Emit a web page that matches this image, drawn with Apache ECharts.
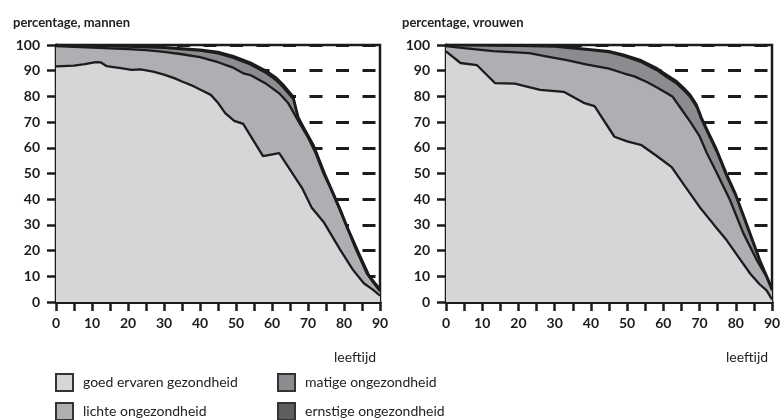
<!DOCTYPE html>
<html><head><meta charset="utf-8">
<script src="https://cdn.jsdelivr.net/npm/echarts@6/dist/echarts.min.js"></script>
<style>html,body{margin:0;padding:0;background:#fff}#c{width:784px;height:420px}</style>
</head><body><div id="c"></div>
<script>
// ---- data ----
const seriesNames = ['goed ervaren gezondheid','lichte ongezondheid','matige ongezondheid','ernstige ongezondheid'];
const panelTitles = ['percentage, mannen','percentage, vrouwen'];
const xTickLabels = [0,10,20,30,40,50,60,70,80,90];
const yTickLabels = [0,10,20,30,40,50,60,70,80,90,100];

// mannen (cumulative percentages by age)
const menAgeGoed = [0,5,8,11,12.5,14,18,21,23.5,27,30,33,35,37.5,41,43,45,47,49.5,52,57.5,62,65,68.5,71,74.5,79,82.5,85.5,88,90];
const menGoed    = [91.7,92,92.6,93.3,93.2,91.8,91,90.3,90.5,89.6,88.5,87,85.8,84.4,82,80.6,77.5,73.5,70.5,69.3,56.8,57.9,51.5,44,36.8,30.8,20.2,12.5,7.3,4.8,2.5];
const menAgeLichte = [0,10,20,25,30,35,40,45,49,52,54,58.5,62,64.5,67.8,70,72,74.3,76,78.9,81,83,86.3,88,90];
const menLichte    = [99.6,99,98.4,98,97.3,96.4,95.3,93.3,91.3,89,88.3,84.8,81.2,77.4,69.2,64,58.3,50,45,35.6,28.5,21.5,11.2,7.8,4.2];
const menAgeTop = [0,10,20,30,40,45,49.3,54,58.5,61,63.1,65.9,67.3,69,71.5,74.7,77,79,81,84,87,90];
const menMatige = [100,99.8,99.4,98.9,97.8,96.7,95,92.4,89,86.5,83.6,79,71.2,66.8,60.5,49.3,42,35.5,28.5,19,9.9,4.9];
const menErnstig = [100,99.9,99.6,99.2,98.2,97.3,95.7,93.2,89.9,87.5,84.6,80,72,67.5,61.2,49.8,42.5,36,29,19.5,10.2,5];

// vrouwen
const womAgeGoed = [0,4,8.5,13.5,19,26,32.5,38,41,46.5,50,54,58,62.3,66,70,74,77.5,81,84,86.5,88.5,90];
const womGoed    = [97.5,93,92.2,85.2,85,82.5,81.8,77.5,76.2,64.3,62.5,61,57,52.5,45,37,30,24,17,11,7,4.5,1];
const womAgeLichte = [0,5,13,23,28,33,39,45,49,52,55.6,58.5,62.5,65,67.5,70,72,74.5,78.4,82.1,85.8,88.5,90];
const womLichte    = [99.6,98.8,97.6,96.8,95.5,94.2,92.4,90.8,89,87.8,85.5,83.3,80,75,70,64.5,58,51,39.7,26.7,16.3,9.8,4.5];
const womAgeTop = [0,10,20,30,40,45,49,54,58.2,61,63.7,66,67.4,69.2,70.6,72.5,74.7,77.5,80,83,86.7,89.4,90];
const womMatige  = [100,99.9,99.7,99.4,98,97.2,95.8,93.3,90.2,87.4,85,81.9,79.8,75.8,70.8,65.1,58.6,48.9,41.2,29.8,15.6,6.9,5];
const womErnstig = [100,100,99.9,99.7,98.3,97.6,96.3,94,91,88.3,85.9,82.8,80.7,76.8,71.6,66,59.5,49.8,42,30.6,16.3,7.4,5.5];

// ---- styling ----
const fills = ['#d5d6d8','#aeafb2','#8b8c8f','#5e5e60'];
const ink = '#1c1c1c';
const font = 'Lato, "Open Sans", sans-serif';

function pairs(a, v){ return a.map((x,i)=>[x, v[i]]); }

const panels = [
  {goed:[menAgeGoed,menGoed], lichte:[menAgeLichte,menLichte], matige:[menAgeTop,menMatige], ernstig:[menAgeTop,menErnstig]},
  {goed:[womAgeGoed,womGoed], lichte:[womAgeLichte,womLichte], matige:[womAgeTop,womMatige], ernstig:[womAgeTop,womErnstig]}
];

const grids = [
  {left:56, top:45, width:324, height:257, show:true, borderColor:ink, borderWidth:2.5, backgroundColor:'transparent'},
  {left:446, top:45, width:326, height:257, show:true, borderColor:ink, borderWidth:2.5, backgroundColor:'transparent'}
];
const dashOffsets = [11.5, 9.5];

const xAxes = grids.map((g,i)=>({
  type:'value', gridIndex:i, min:0, max:90, interval:5,
  axisLine:{show:true, lineStyle:{color:ink, width:3}},
  axisTick:{show:true, length:9, lineStyle:{color:ink, width:2.5}},
  axisLabel:{margin:14, color:ink, fontFamily:font, fontWeight:'bold', fontSize:14,
    formatter:v=> xTickLabels.includes(v) ? String(v) : ''},
  splitLine:{show:false}
}));
const yAxes = grids.map((g,i)=>({
  type:'value', gridIndex:i, min:0, max:100, interval:10,
  axisLine:{show:true, lineStyle:{color:ink, width:3}},
  axisTick:{show:true, length:9, lineStyle:{color:ink, width:2.5}},
  axisLabel:{margin:16, color:ink, fontFamily:font, fontWeight:'bold', fontSize:14,
    formatter:v=> yTickLabels.includes(v) ? String(v) : ''},
  splitLine:{show:true, lineStyle:{color:ink, width:2.8, type:[13,13.5], dashOffset:dashOffsets[i]}}
}));

const series = [];
panels.forEach((p,i)=>{
  const order = [['ernstig',3],['matige',2],['lichte',1],['goed',0]];
  order.forEach(([k,ci])=>{
    series.push({
      type:'line', name:seriesNames[ci], xAxisIndex:i, yAxisIndex:i,
      data:pairs(p[k][0], p[k][1]), symbol:'none', smooth:false,
      lineStyle:{color:ink, width:2.3},
      itemStyle:{color:fills[ci]},
      areaStyle:{color:fills[ci], opacity:1, origin:'start'},
      silent:true, animation:false
    });
  });
});

const legendPos = [[55,373],[55,402],[277,373],[277,402]];
const legends = seriesNames.map((n,ci)=>({
  left:legendPos[ci][0], top:legendPos[ci][1], padding:0, orient:'horizontal',
  itemWidth:17, itemHeight:17, selectedMode:false,
  textStyle:{color:'#222', fontFamily:font, fontSize:14, padding:[0,0,0,5]},
  data:[{name:n, icon:'rect', itemStyle:{color:fills[ci], borderColor:'#333', borderWidth:2}}]
}));

const option = {
  backgroundColor:'#fff',
  animation:false,
  title:[
    {text:panelTitles[0], left:8, top:11, textStyle:{fontFamily:font, fontWeight:'bold', fontSize:13, color:'#222'}},
    {text:panelTitles[1], left:397, top:11, textStyle:{fontFamily:font, fontWeight:'bold', fontSize:13, color:'#222'}},
    {text:'leeftijd', left:329, top:345, textStyle:{fontFamily:font, fontWeight:'normal', fontSize:14, color:'#222'}},
    {text:'leeftijd', left:721, top:345, textStyle:{fontFamily:font, fontWeight:'normal', fontSize:14, color:'#222'}}
  ],
  legend:legends,
  grid:grids, xAxis:xAxes, yAxis:yAxes, series:series
};
const chart = echarts.init(document.getElementById('c'), null, {renderer:'canvas'});
chart.setOption(option);
</script></body></html>
